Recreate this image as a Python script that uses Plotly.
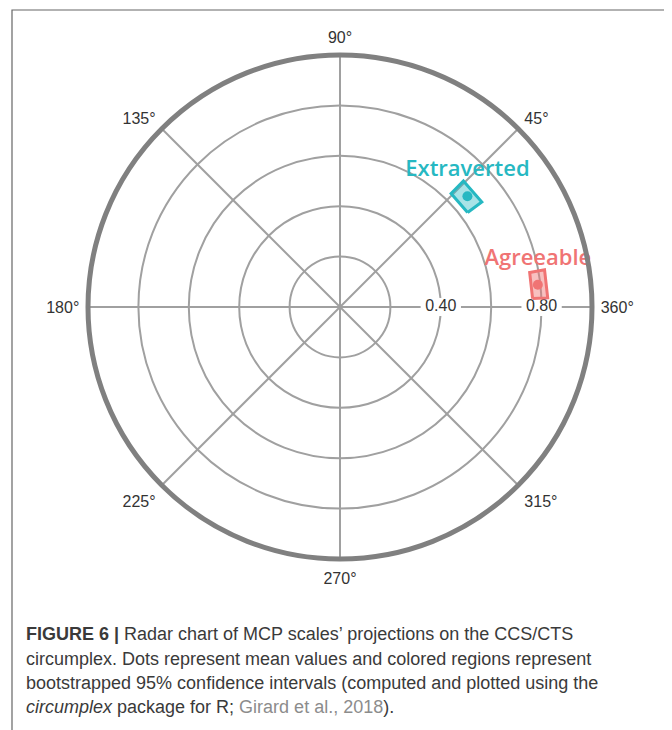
import plotly.graph_objects as go

# ---- data ----
series_names = ["Extraverted", "Agreeable"]
mean_amplitude = [0.67, 0.79]
mean_angle = [41.0, 6.4]
ci_amp_low = [0.63, 0.765]
ci_amp_high = [0.70, 0.825]
ci_ang_low = [36.5, 2.5]
ci_ang_high = [45.6, 10.3]
series_colors = ["#26b8c2", "#f07474"]
series_fills = ["rgba(38,184,194,0.40)", "rgba(240,116,116,0.45)"]

angle_ticks = [0, 45, 90, 135, 180, 225, 270, 315]
angle_labels = ["360°", "45°", "90°", "135°", "180°", "225°", "270°", "315°"]
radial_grid = [0.2, 0.4, 0.6, 0.8, 1.0]
radial_label_vals = [0.4, 0.8]
radial_label_text = ["0.40", "0.80"]

caption_lines = [
    "<b>FIGURE 6 |</b> Radar chart of MCP scales’ projections on the CCS/CTS",
    "circumplex. Dots represent mean values and colored regions represent",
    "bootstrapped 95% confidence intervals (computed and plotted using the",
    "<i>circumplex</i> package for R; <span style='color:#8c8c8c'>Girard et al., 2018</span>).",
]

# page body has an 8px margin, so the figure is laid out in page coords minus 8
OFF = 8
W, H = 672 - OFF, 730 - OFF
fig = go.Figure()

# radial labels with white background gaps on the 0° line
for v in radial_label_vals:
    fig.add_trace(go.Scatterpolar(
        r=[v - 0.08, v + 0.08], theta=[0, 0], mode="lines",
        line=dict(color="white", width=18), hoverinfo="skip", showlegend=False))
fig.add_trace(go.Scatterpolar(
    r=radial_label_vals, theta=[0] * len(radial_label_vals), mode="text",
    text=radial_label_text, textposition="middle center",
    textfont=dict(family="Liberation Sans, Arial", size=16, color="#333333"),
    hoverinfo="skip", showlegend=False))

# confidence regions, means, labels
for i, name in enumerate(series_names):
    fig.add_trace(go.Scatterpolar(
        r=[ci_amp_low[i], ci_amp_high[i], ci_amp_high[i], ci_amp_low[i], ci_amp_low[i]],
        theta=[ci_ang_low[i], ci_ang_low[i], ci_ang_high[i], ci_ang_high[i], ci_ang_low[i]],
        mode="lines", fill="toself", fillcolor=series_fills[i],
        line=dict(color=series_colors[i], width=3), showlegend=False, hoverinfo="skip"))
    fig.add_trace(go.Scatterpolar(
        r=[mean_amplitude[i]], theta=[mean_angle[i]], mode="markers+text",
        marker=dict(color="rgba(0,0,0,0)", size=22),
        text=[name], textposition="top center",
        textfont=dict(family="Open Sans", size=22, color=series_colors[i], weight=600),
        showlegend=False, hoverinfo="skip"))
    fig.add_trace(go.Scatterpolar(
        r=[mean_amplitude[i]], theta=[mean_angle[i]], mode="markers",
        marker=dict(color=series_colors[i], size=10), showlegend=False, name=name))

cx, cy, R = 340 - OFF, 307 - OFF, 252
fig.update_layout(
    width=W, height=H,
    margin=dict(l=0, r=0, t=0, b=0),
    paper_bgcolor="white",
    showlegend=False,
    polar=dict(
        domain=dict(x=[(cx - R) / W, (cx + R) / W], y=[(H - cy - R) / H, (H - cy + R) / H]),
        bgcolor="white",
        radialaxis=dict(range=[0, 1], tickvals=radial_grid, showticklabels=False,
                        showline=False, ticks="", gridcolor="#a0a0a0", gridwidth=1.5, angle=0),
        angularaxis=dict(tickvals=angle_ticks, ticktext=angle_labels,
                         direction="counterclockwise", rotation=0,
                         showline=True, linecolor="#808080", linewidth=5,
                         gridcolor="#a0a0a0", gridwidth=1.5,
                         ticks="outside", ticklen=3, tickcolor="rgba(0,0,0,0)",
                         tickfont=dict(family="Liberation Sans, Arial", size=16, color="#333333")),
    ),
    shapes=[dict(type="rect", xref="paper", yref="paper",
                 x0=(12 - OFF) / W, x1=(669 - OFF) / W, y0=-0.02, y1=(H - (10 - OFF)) / H,
                 line=dict(color="#666666", width=1.2), fillcolor="rgba(0,0,0,0)")],
)

line_y = [634, 659, 683, 707]
for txt, yy in zip(caption_lines, line_y):
    fig.add_annotation(text=txt, xref="paper", yref="paper", x=(24 - OFF) / W, y=(H - (yy - OFF)) / H,
                       xanchor="left", yanchor="middle", showarrow=False, align="left",
                       font=dict(family="Liberation Sans", size=18, color="#3a3a3a"))

fig.write_html("out.html")
